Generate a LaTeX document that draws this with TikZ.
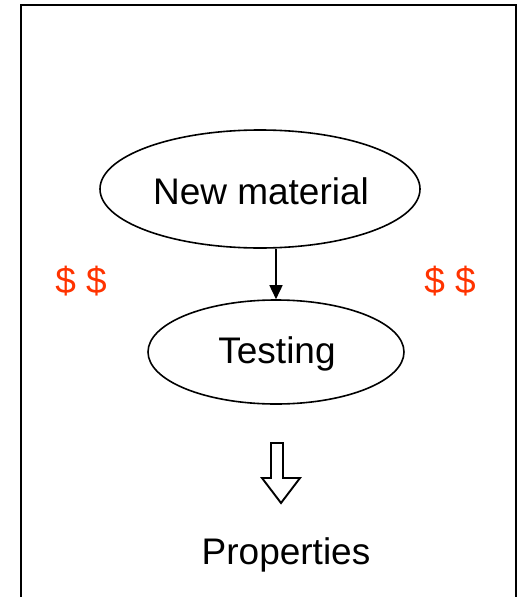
\documentclass[tikz,border=0pt]{standalone}
\usepackage{fontspec}
\setmainfont{Liberation Sans}
\usetikzlibrary{arrows.meta,positioning,shapes.geometric}

\definecolor{costred}{HTML}{FF3300}
\tikzset{
  stage/.style={draw, ellipse, line width=1.6pt, inner sep=0pt},
  big/.style={font=\fontsize{37}{44}\selectfont, anchor=base},
  cost/.style={big, text=costred}
}

\begin{document}
\begin{tikzpicture}[x=1pt, y=-1pt]
  \useasboundingbox (0,0) rectangle (519,597);
  \draw[line width=2.2pt] (21,597) -- (21,5) -- (516,5) -- (516,597);

  \node (newmat) [stage, minimum width=320pt, minimum height=118pt] at (260,189) {};
  \node (testing) [stage, minimum width=256pt, minimum height=104pt] at (276,352) {};
  \node (newmattxt) [big] at (261,204) {New material};
  \node (testingtxt) [big] at (277,363) {Testing};
  \node (props) [big] at (286,564) {Properties};
  \node (lcost) [cost] at (81,293) {\$ \$};
  \node (rcost) [cost] at (450,293) {\$ \$};

  \draw[line width=1.6pt, -{Triangle[length=14pt, width=13pt]}] (testing.north |- newmat.south) -- (testing.north);

  % block arrow towards the result
  \coordinate (tip) at (281,503);
  \draw[line width=1.9pt, fill=white] (tip) -- ++(-19,-25) -- ++(9,0) -- ++(0,-35)
    -- ++(12,0) -- ++(0,35) -- ++(17,0) -- cycle;
\end{tikzpicture}
\end{document}
